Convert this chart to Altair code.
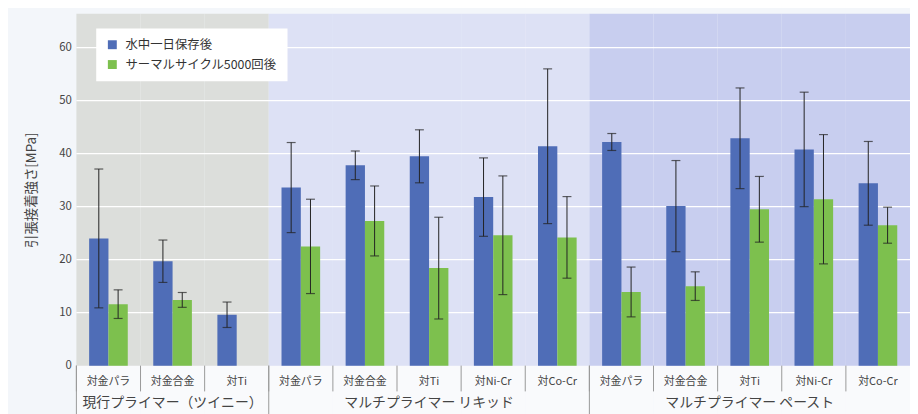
import altair as alt
import pandas as pd

# ---------------- data ----------------
groups = ["現行プライマー（ツイニー）", "マルチプライマー リキッド", "マルチプライマー ペースト"]
group_categories = [
    ["対金パラ", "対金合金", "対Ti"],
    ["対金パラ", "対金合金", "対Ti", "対Ni-Cr", "対Co-Cr"],
    ["対金パラ", "対金合金", "対Ti", "対Ni-Cr", "対Co-Cr"],
]
series = ["水中一日保存後", "サーマルサイクル5000回後"]
water_mean = [24.0, 19.7, 9.6, 33.6, 37.8, 39.5, 31.8, 41.4, 42.2, 30.1, 42.9, 40.8, 34.4]
water_sd = [13.1, 4.0, 2.4, 8.5, 2.7, 5.0, 7.4, 14.6, 1.6, 8.6, 9.5, 10.8, 7.9]
thermal_mean = [11.6, 12.4, None, 22.5, 27.3, 18.4, 24.6, 24.2, 13.9, 15.0, 29.5, 31.4, 26.5]
thermal_sd = [2.7, 1.4, None, 8.9, 6.6, 9.6, 11.2, 7.7, 4.7, 2.7, 6.2, 12.2, 3.4]
y_ticks = [0, 10, 20, 30, 40, 50, 60]
y_title = "引張接着強さ[MPa]"

# ---------------- styles ----------------
FONT = "Noto Sans CJK JP"
bar_colors = ["#4f6db7", "#7dc04e"]
bg_colors = ["#dcdedb", "#dde1f5", "#c8ceef"]
W, H = 841, 355

# ---------------- tables ----------------
cat_rows = []
mid_keys = []
for gi, (g, cats) in enumerate(zip(groups, group_categories)):
    for ci, c in enumerate(cats):
        cat_rows.append({"key": f"{gi}|{c}", "group": g, "label": c, "first": ci == 0})
    mid_keys.append(f"{gi}|{cats[len(cats) // 2]}")
keys = [r["key"] for r in cat_rows]
cats_df = pd.DataFrame(cat_rows)
first_df = cats_df[cats_df["first"]]

bar_rows = []
for k, m, s in zip(keys, water_mean, water_sd):
    bar_rows.append({"key": k, "series": series[0], "mean": m, "sd": s})
for k, m, s in zip(keys, thermal_mean, thermal_sd):
    if m is not None:
        bar_rows.append({"key": k, "series": series[1], "mean": m, "sd": s})
bars_df = pd.DataFrame(bar_rows)

group_df = pd.DataFrame({"group": groups, "key": mid_keys})
grid_df = pd.DataFrame({"v": y_ticks[1:]})

# ---------------- scales / axes ----------------
xs = alt.Scale(domain=keys, paddingInner=0, paddingOuter=0)
ys = alt.Scale(domain=[0, 66.4], nice=False, zero=True)
xoff = alt.XOffset("series:N", scale=alt.Scale(domain=series, paddingInner=0, paddingOuter=0.66))

x_axis = alt.Axis(
    title=None,
    labelExpr="split(datum.label, '|')[1]",
    ticks=False,
    tickSize=0,
    domain=False,
    grid=False,
    labelAngle=0,
    labelFontSize=11,
    labelColor="#444",
    labelPadding=16,
    labelBaseline="middle",
)
y_axis = alt.Axis(
    values=y_ticks,
    title=y_title,
    grid=False,
    ticks=False,
    tickSize=0,
    domain=False,
    labelFontSize=11.5,
    labelColor="#444",
    labelPadding=5,
    titleFontSize=13.5,
    titleFontWeight="normal",
    titleColor="#444",
    titlePadding=20,
)


def X(**kw):
    return alt.X("key:N", scale=xs, axis=x_axis, **kw)


def Y(field):
    return alt.Y(field, scale=ys, axis=y_axis)


label_area = alt.Chart(cats_df).mark_rect(color="#f9fafc").encode(
    x=X(),
    y=alt.value(H),
    y2=alt.value(H + 50),
)

background = alt.Chart(cats_df).mark_rect().encode(
    x=X(),
    y=alt.value(0),
    y2=alt.value(H),
    fill=alt.Fill("group:N", scale=alt.Scale(domain=groups, range=bg_colors), legend=None),
)

grid = alt.Chart(grid_df).mark_rule(color="white", strokeWidth=1.2).encode(
    y=Y("v:Q"),
    x=alt.value(0),
    x2=alt.value(W),
)

bars = alt.Chart(bars_df).mark_bar().encode(
    x=X(),
    xOffset=xoff,
    y=Y("mean:Q"),
    color=alt.Color(
        "series:N",
        scale=alt.Scale(domain=series, range=bar_colors),
        legend=alt.Legend(
            title=None,
            orient="none",
            legendX=20,
            legendY=15,
            fillColor="white",
            padding=10,
            symbolType="square",
            symbolSize=81,
            symbolStrokeWidth=0,
            symbolOpacity=1,
            labelFontSize=12.5,
            labelColor="#333",
            labelOffset=7,
            rowPadding=7,
        ),
    ),
)

err_base = alt.Chart(bars_df).transform_calculate(
    lo="datum.mean - datum.sd", hi="datum.mean + datum.sd"
)
err_rule = err_base.mark_rule(color="#222", strokeWidth=1).encode(
    x=X(), xOffset=xoff, y=Y("lo:Q"), y2="hi:Q",
)
cap_hi = err_base.mark_tick(color="#222", size=9, thickness=1.2).encode(
    x=X(), xOffset=xoff, y=Y("hi:Q"),
)
cap_lo = err_base.mark_tick(color="#222", size=9, thickness=1.2).encode(
    x=X(), xOffset=xoff, y=Y("lo:Q"),
)

sep_short = alt.Chart(cats_df).mark_rule(color="#999", strokeWidth=1).encode(
    x=X(bandPosition=0),
    y=alt.value(H),
    y2=alt.value(H + 26),
)
sep_long = alt.Chart(first_df).mark_rule(color="#999", strokeWidth=1).encode(
    x=X(bandPosition=0),
    y=alt.value(H),
    y2=alt.value(H + 52),
)

group_text = alt.Chart(group_df).mark_text(fontSize=14, color="#444", baseline="middle").encode(
    x=X(),
    y=alt.value(H + 38),
    text="group:N",
)

chart = (
    alt.layer(label_area, background, grid, bars, err_rule, cap_hi, cap_lo,
              sep_short, sep_long, group_text)
    .properties(
        width=W,
        height=H,
        autosize=alt.AutoSizeParams(type="none"),
        padding={"left": 69, "top": 4, "right": 0, "bottom": 47},
        background="#f3f6fa",
    )
    .configure(font=FONT)
    .configure_view(stroke=None)
)

chart.save("out.html", embed_options={"renderer": "svg", "actions": False})
